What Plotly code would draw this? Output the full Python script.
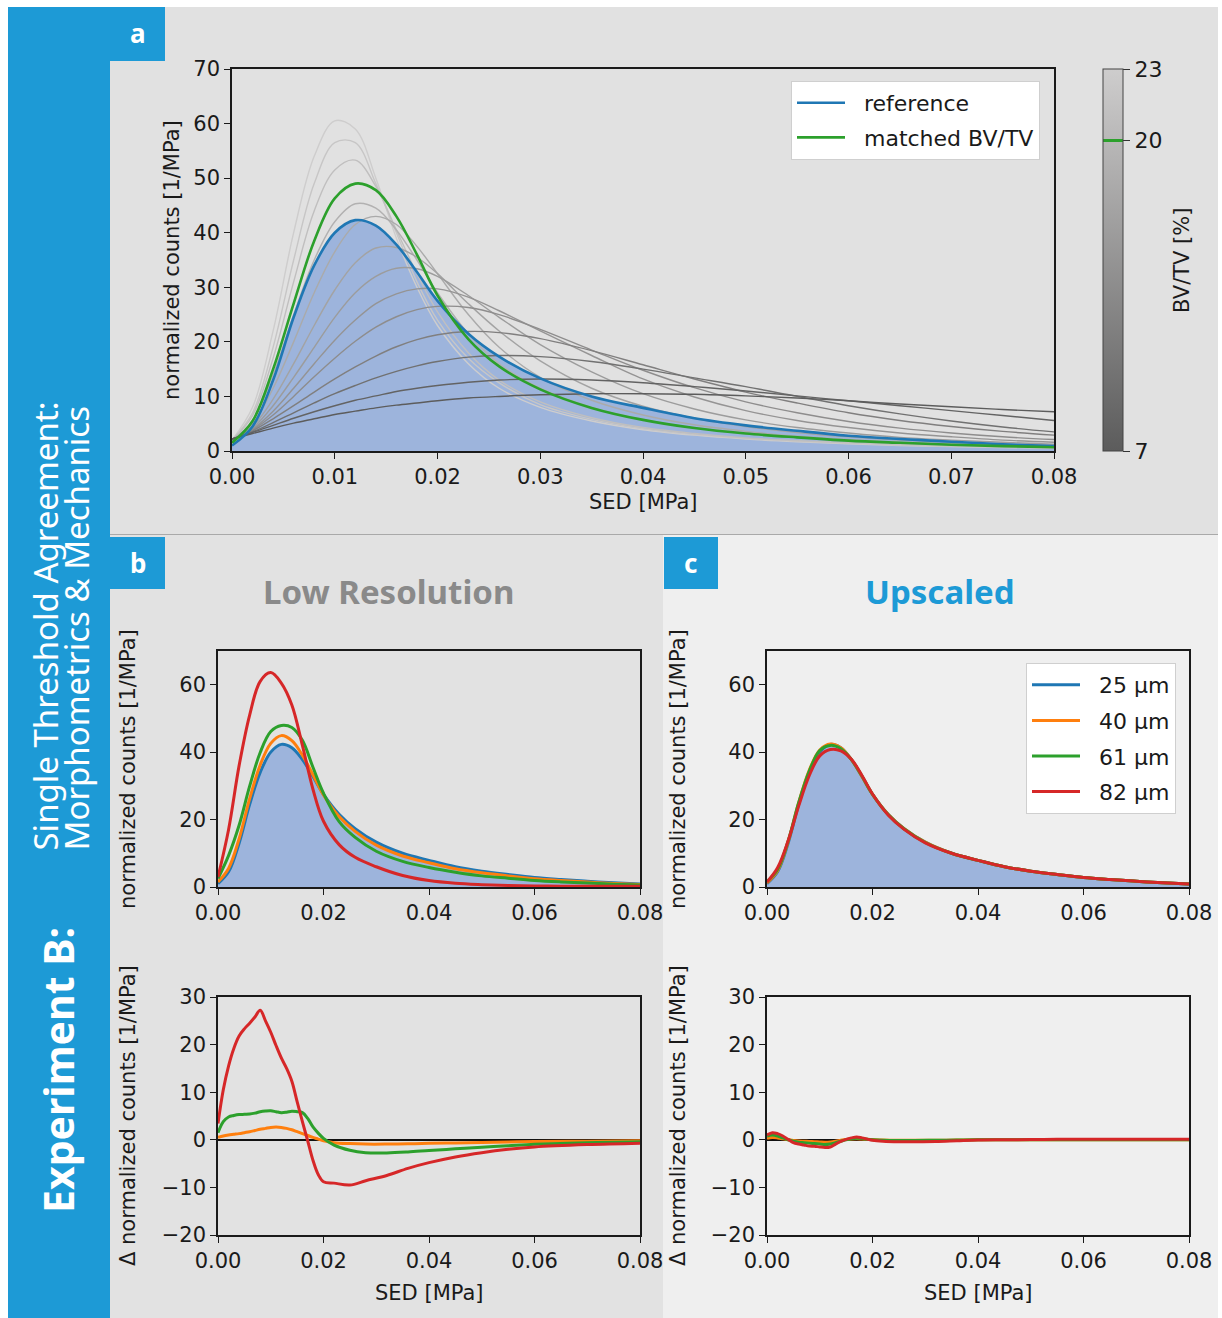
import plotly.graph_objects as go

W, H = 1222, 1318
FONT = "DejaVu Sans"        # axes, ticks, legends
HEAD_FONT = "Noto Sans"     # panel headings and side banner
SIDEBAR_BLUE = "#1d9ad6"
FILL_BLUE = "#9db4dc"
C_BLUE, C_ORANGE, C_GREEN, C_RED = "#1f77b4", "#ff7f0e", "#2ca02c", "#d62728"
NBSP = "\u00a0"


def px(x):
    return x / W


def py(y):
    return 1 - y / H


# ---------------- data ----------------
# SED sample points [MPa] for the distributions
SED = [0.000, 0.002, 0.004, 0.006, 0.008, 0.010, 0.012, 0.014, 0.016, 0.018, 0.020, 0.023,
       0.026, 0.030, 0.035, 0.040, 0.045, 0.050, 0.055, 0.060, 0.065, 0.070, 0.075, 0.080]

# reference distribution (25 um)
reference = [1.0, 4.5, 13.0, 24.5, 34.0, 40.0, 42.3, 41.3, 37.8, 32.8, 27.5, 21.5,
             17.3, 13.3, 10.0, 7.9, 6.0, 4.7, 3.7, 2.8, 2.2, 1.7, 1.25, 0.9]

# single-threshold result with matched BV/TV (20 %)
matched_bvtv = [1.5, 5.5, 15.0, 27.0, 38.5, 46.3, 49.0, 47.8, 43.0, 36.0, 28.5, 20.5,
                15.5, 11.3, 7.9, 5.7, 4.2, 3.2, 2.5, 1.9, 1.5, 1.15, 0.9, 0.7]

# threshold sweep: BV/TV [%] of each curve
bvtv_levels = [23, 22, 21, 19, 18, 17, 16, 15, 14, 12, 10, 8, 7]
sweep_bv23 = [2.0, 8.0, 22.0, 40.0, 54.0, 60.5, 59.0, 50.0, 39.0, 30.0, 23.0, 16.0,
              11.5, 8.0, 5.5, 3.9, 2.9, 2.2, 1.7, 1.3, 1.0, 0.8, 0.65, 0.5]
sweep_bv22 = [2.0, 7.0, 19.0, 35.0, 49.0, 56.5, 56.5, 49.0, 40.0, 31.0, 24.0, 17.0,
              12.5, 8.5, 5.8, 4.1, 3.0, 2.3, 1.8, 1.4, 1.1, 0.85, 0.7, 0.55]
sweep_bv21 = [2.0, 6.5, 17.0, 31.0, 44.0, 51.5, 53.3, 48.5, 40.5, 32.5, 25.5, 18.0,
              13.0, 9.0, 6.1, 4.3, 3.2, 2.4, 1.9, 1.5, 1.2, 0.9, 0.75, 0.6]
sweep_bv19 = [2.0, 5.5, 14.0, 25.0, 35.0, 42.0, 45.3, 44.5, 40.5, 35.0, 29.0, 21.5,
              16.0, 11.5, 8.0, 5.8, 4.3, 3.3, 2.5, 1.9, 1.5, 1.2, 0.95, 0.75]
sweep_bv18 = [2.0, 5.0, 11.5, 20.0, 29.0, 36.5, 41.5, 43.0, 41.5, 37.5, 32.5, 25.0,
              19.0, 13.5, 9.3, 6.6, 4.8, 3.6, 2.7, 2.1, 1.6, 1.3, 1.0, 0.8]
sweep_bv17 = [2.0, 4.5, 9.5, 16.0, 23.0, 29.5, 34.5, 37.2, 37.3, 35.5, 32.5, 27.0,
              22.0, 16.5, 11.5, 8.2, 6.0, 4.5, 3.4, 2.6, 2.0, 1.6, 1.25, 1.0]
sweep_bv16 = [2.0, 4.2, 8.3, 13.5, 19.0, 24.5, 29.0, 32.0, 33.5, 33.4, 32.0, 28.5,
              24.5, 19.5, 14.5, 10.5, 7.7, 5.7, 4.3, 3.3, 2.5, 2.0, 1.6, 1.25]
sweep_bv15 = [2.0, 4.0, 7.3, 11.5, 16.0, 20.3, 24.0, 27.0, 28.8, 29.7, 29.7, 28.2,
              25.7, 22.0, 17.5, 13.2, 9.9, 7.4, 5.6, 4.3, 3.3, 2.6, 2.0, 1.6]
sweep_bv14 = [2.1, 3.9, 6.6, 10.0, 13.6, 17.0, 20.1, 22.7, 24.6, 25.9, 26.5, 26.3,
              25.0, 22.3, 18.5, 14.8, 11.6, 9.0, 7.0, 5.4, 4.2, 3.3, 2.6, 2.1]
sweep_bv12 = [2.2, 3.7, 5.9, 8.3, 10.8, 13.2, 15.4, 17.4, 19.1, 20.4, 21.3, 21.9,
              21.7, 20.6, 18.4, 15.8, 13.2, 10.8, 8.8, 7.0, 5.6, 4.5, 3.6, 2.9]
sweep_bv10 = [2.2, 3.5, 5.2, 7.0, 8.8, 10.5, 12.0, 13.4, 14.6, 15.6, 16.4, 17.2,
              17.5, 17.3, 16.4, 15.0, 13.4, 11.8, 10.0, 8.3, 6.8, 5.5, 4.4, 3.5]
sweep_bv8 = [2.2, 3.4, 4.7, 6.0, 7.2, 8.3, 9.3, 10.1, 10.9, 11.5, 12.0, 12.6,
             13.0, 13.2, 13.0, 12.5, 11.8, 11.0, 10.1, 9.2, 8.3, 7.4, 6.5, 5.6]
sweep_bv7 = [2.2, 3.2, 4.2, 5.1, 5.9, 6.7, 7.3, 7.9, 8.4, 8.8, 9.2, 9.7,
             10.0, 10.3, 10.5, 10.5, 10.4, 10.1, 9.7, 9.2, 8.6, 8.1, 7.6, 7.2]
sweep_curves = [sweep_bv23, sweep_bv22, sweep_bv21, sweep_bv19, sweep_bv18, sweep_bv17, sweep_bv16,
                sweep_bv15, sweep_bv14, sweep_bv12, sweep_bv10, sweep_bv8, sweep_bv7]
BVTV_MIN, BVTV_MAX, BVTV_MATCHED = 7, 23, 20
bvtv_ticks = [7, 20, 23]

# resolutions
resolutions = ["25 µm", "40 µm", "61 µm", "82 µm"]

# low resolution distributions (25 um = reference)
low_40 = [1.5, 5.5, 14.3, 26.2, 36.2, 42.6, 44.9, 43.4, 39.1, 33.3, 27.3, 20.8,
          16.5, 12.4, 9.2, 7.2, 5.4, 4.2, 3.3, 2.45, 1.9, 1.45, 1.05, 0.75]
low_61 = [2.5, 9.3, 18.3, 29.9, 39.9, 46.1, 47.9, 47.3, 43.5, 35.5, 27.8, 19.3,
          14.7, 10.6, 7.6, 5.8, 4.4, 3.3, 2.6, 1.95, 1.5, 1.15, 0.85, 0.6]
low_82 = [3.0, 17.0, 36.0, 51.0, 61.0, 63.6, 60.5, 54.0, 42.0, 29.0, 19.5, 12.5,
          8.8, 6.0, 3.4, 1.9, 1.1, 0.7, 0.45, 0.3, 0.25, 0.2, 0.2, 0.2]

# upscaled distributions
up_40 = [1.2, 4.8, 13.4, 25.0, 34.6, 40.6, 42.4, 41.3, 37.8, 32.8, 27.5, 21.5,
         17.3, 13.3, 10.0, 7.9, 6.0, 4.7, 3.7, 2.8, 2.2, 1.7, 1.25, 0.9]
up_61 = [1.6, 5.2, 13.6, 25.0, 34.3, 40.5, 42.0, 41.0, 37.8, 32.9, 27.5, 21.4,
         17.2, 13.2, 10.0, 7.9, 6.0, 4.7, 3.7, 2.8, 2.2, 1.7, 1.25, 0.9]
up_82 = [1.5, 5.7, 13.7, 24.0, 33.0, 38.9, 40.8, 40.4, 37.9, 33.1, 27.6, 21.3,
         17.1, 13.1, 10.0, 7.9, 6.0, 4.7, 3.7, 2.8, 2.2, 1.7, 1.25, 0.9]

# differences to the reference
D_SED = [0.000, 0.001, 0.002, 0.003, 0.004, 0.005, 0.006, 0.007, 0.008, 0.009, 0.010,
         0.011, 0.012, 0.013, 0.014, 0.015, 0.016, 0.017, 0.018, 0.019, 0.020, 0.022,
         0.025, 0.028, 0.032, 0.036, 0.040, 0.045, 0.050, 0.055, 0.060, 0.070, 0.080]
low_d40 = [0.5, 0.8, 1.0, 1.15, 1.3, 1.5, 1.7, 1.95, 2.2, 2.4, 2.6,
           2.7, 2.6, 2.4, 2.1, 1.7, 1.3, 0.9, 0.5, 0.15, -0.2, -0.6,
           -0.8, -0.9, -0.9, -0.85, -0.75, -0.65, -0.55, -0.45, -0.38, -0.28, -0.2]
low_d61 = [1.5, 3.8, 4.8, 5.1, 5.3, 5.35, 5.4, 5.6, 5.9, 6.05, 6.1,
           5.9, 5.7, 5.8, 6.0, 5.9, 5.7, 4.5, 2.7, 1.4, 0.3, -1.1,
           -2.2, -2.7, -2.75, -2.55, -2.25, -1.9, -1.55, -1.25, -0.95, -0.6, -0.4]
low_d82 = [3.4, 10.5, 15.5, 19.2, 21.8, 23.3, 24.5, 25.8, 27.2, 25.0, 22.6,
           19.8, 17.2, 15.0, 12.3, 8.0, 3.8, -0.2, -4.3, -7.3, -8.8, -9.1,
           -9.5, -8.6, -7.5, -6.0, -4.8, -3.6, -2.7, -2.0, -1.5, -1.0, -0.7]
up_d40 = [0.3, 0.5, 0.4, 0.2, 0.0, -0.15, -0.25, -0.3, -0.35, -0.4, -0.45,
          -0.5, -0.45, -0.3, -0.1, 0.05, 0.15, 0.2, 0.15, 0.1, 0.05, -0.05,
          -0.1, -0.1, -0.1, -0.05, 0.0, 0.0, 0.0, 0.02, 0.02, 0.02, 0.02]
up_d61 = [0.8, 1.0, 0.8, 0.4, 0.0, -0.3, -0.5, -0.6, -0.7, -0.8, -0.9,
          -1.0, -0.9, -0.6, -0.3, 0.0, 0.2, 0.3, 0.25, 0.1, 0.0, -0.1,
          -0.15, -0.15, -0.1, -0.05, 0.0, 0.02, 0.03, 0.03, 0.03, 0.03, 0.03]
up_d82 = [1.0, 1.5, 1.3, 0.8, 0.1, -0.6, -0.9, -1.1, -1.3, -1.35, -1.5,
          -1.6, -1.5, -0.9, -0.35, 0.1, 0.4, 0.6, 0.4, 0.15, -0.1, -0.3,
          -0.4, -0.4, -0.35, -0.2, -0.05, 0.0, 0.05, 0.1, 0.1, 0.1, 0.1]

# ---------------- colours ----------------
DARK_GREY = (92, 92, 92)
LIGHT_GREY = (206, 205, 205)


def grey_for(bv):
    t = (bv - BVTV_MIN) / (BVTV_MAX - BVTV_MIN)
    r, g, b = [round(d + t * (l - d)) for d, l in zip(DARK_GREY, LIGHT_GREY)]
    return f"rgb({r},{g},{b})"


t_match = (BVTV_MATCHED - BVTV_MIN) / (BVTV_MAX - BVTV_MIN)
band = 0.004
bar_scale = [
    [0.0, grey_for(BVTV_MIN)],
    [t_match - band, grey_for(BVTV_MATCHED - band * 16)],
    [t_match - band, C_GREEN],
    [t_match + band, C_GREEN],
    [t_match + band, grey_for(BVTV_MATCHED + band * 16)],
    [1.0, grey_for(BVTV_MAX)],
]

fig = go.Figure()
SMOOTH = 1.0


def line(x, y, color, width, ax, name=None, legend=None):
    fig.add_trace(go.Scatter(
        x=x, y=y, mode="lines", name=(NBSP * 2 + name) if name else None,
        line=dict(color=color, width=width, shape="spline", smoothing=SMOOTH),
        showlegend=legend is not None, legend=legend or "legend",
        legendgroup=name, xaxis="x" + ax, yaxis="y" + ax, hoverinfo="skip"))


def ref_fill(ax):
    fig.add_trace(go.Scatter(
        x=SED, y=reference, mode="lines", fill="tozeroy", fillcolor=FILL_BLUE,
        line=dict(width=0, shape="spline", smoothing=SMOOTH), showlegend=False,
        xaxis="x" + ax, yaxis="y" + ax, hoverinfo="skip"))


# panel a
ref_fill("")
for bv, curve in zip(bvtv_levels, sweep_curves):
    line(SED, curve, grey_for(bv), 1.4, "")
line(SED, reference, C_BLUE, 2.6, "", name="reference", legend="legend")
line(SED, matched_bvtv, C_GREEN, 2.6, "", name="matched BV/TV", legend="legend")

# colour bar for the BV/TV sweep
fig.add_trace(go.Scatter(
    x=[None], y=[None], mode="markers", showlegend=False, hoverinfo="skip",
    marker=dict(color=[BVTV_MIN, BVTV_MAX], cmin=BVTV_MIN, cmax=BVTV_MAX,
                colorscale=bar_scale, showscale=True,
                colorbar=dict(
                    x=px(1103), xanchor="left", y=py(260), yanchor="middle",
                    len=382 / H, lenmode="fraction", thickness=20, thicknessmode="pixels",
                    outlinewidth=1, outlinecolor="#444444", xpad=0, ypad=0,
                    ticks="outside", ticklen=7, tickcolor="#333333",
                    tickvals=bvtv_ticks, tickfont=dict(size=22, color="#1a1a1a", family=FONT))),
    xaxis="x", yaxis="y"))

res_colors = [C_BLUE, C_ORANGE, C_GREEN, C_RED]

# panel b
ref_fill("2")
for y, c in zip([reference, low_40, low_61, low_82], res_colors):
    line(SED, y, c, 3, "2")
for y, c in zip([low_d40, low_d61, low_d82], res_colors[1:]):
    line(D_SED, y, c, 3, "3")

# panel c
ref_fill("4")
for y, c, n in zip([reference, up_40, up_61, up_82], res_colors, resolutions):
    line(SED, y, c, 3, "4", name=n, legend="legend2")
for y, c in zip([up_d40, up_d61, up_d82], res_colors[1:]):
    line(D_SED, y, c, 3, "5")

# ---------------- axes ----------------
tick_font = dict(size=21, color="#1a1a1a", family=FONT)


def ax_style(**kw):
    d = dict(showline=True, mirror=True, linecolor="#1a1a1a", linewidth=1.5,
             ticks="outside", ticklen=6, tickwidth=1.3, tickcolor="#1a1a1a",
             showgrid=False, zeroline=False, tickfont=tick_font, fixedrange=True,
             automargin=False)
    d.update(kw)
    return d


xa = [px(232), px(1054)]
xb = [px(218), px(640)]
xc = [px(767), px(1189)]
ya = [py(451), py(69)]
ytop = [py(887), py(651)]
ybot = [py(1235), py(997)]

sed_ticks = [0.0, 0.02, 0.04, 0.06, 0.08]
fig.update_layout(
    xaxis=ax_style(domain=xa, range=[0, 0.08], tickvals=[i / 100 for i in range(9)],
                   tickformat=".2f", anchor="y"),
    yaxis=ax_style(domain=ya, range=[0, 70], tickvals=list(range(0, 71, 10)), anchor="x"),
    xaxis2=ax_style(domain=xb, range=[0, 0.08], tickvals=sed_ticks, tickformat=".2f", anchor="y2"),
    yaxis2=ax_style(domain=ytop, range=[0, 70], tickvals=[0, 20, 40, 60], anchor="x2"),
    xaxis3=ax_style(domain=xb, range=[0, 0.08], tickvals=sed_ticks, tickformat=".2f", anchor="y3"),
    yaxis3=ax_style(domain=ybot, range=[-20, 30], tickvals=list(range(-20, 31, 10)), anchor="x3",
                    zeroline=True, zerolinecolor="#111111", zerolinewidth=2),
    xaxis4=ax_style(domain=xc, range=[0, 0.08], tickvals=sed_ticks, tickformat=".2f", anchor="y4"),
    yaxis4=ax_style(domain=ytop, range=[0, 70], tickvals=[0, 20, 40, 60], anchor="x4"),
    xaxis5=ax_style(domain=xc, range=[0, 0.08], tickvals=sed_ticks, tickformat=".2f", anchor="y5"),
    yaxis5=ax_style(domain=ybot, range=[-20, 30], tickvals=list(range(-20, 31, 10)), anchor="x5",
                    zeroline=True, zerolinecolor="#111111", zerolinewidth=2),
)

# ---------------- background panels ----------------
shapes = []


def rect(x0, y0, x1, y1, color):
    shapes.append(dict(type="rect", xref="paper", yref="paper", layer="below",
                       x0=px(x0), x1=px(x1), y0=py(y1), y1=py(y0),
                       fillcolor=color, line=dict(width=0)))


rect(110, 7, 1218, 534, "#e1e1e1")
rect(110, 535, 663, 1318, "#e2e2e2")
rect(663, 535, 1218, 1318, "#efefef")
rect(8, 7, 110, 1318, SIDEBAR_BLUE)
rect(110, 7, 165, 61, SIDEBAR_BLUE)
rect(110, 537, 165, 589, SIDEBAR_BLUE)
rect(664, 537, 718, 589, SIDEBAR_BLUE)
shapes.append(dict(type="line", xref="paper", yref="paper", layer="below",
                   x0=px(110), x1=px(1218), y0=py(534.5), y1=py(534.5),
                   line=dict(color="#a9a9a9", width=1)))

# ---------------- text ----------------
ann = []


def text(x, y, s, size, color="#1a1a1a", angle=0, bold=False, family=FONT,
         xanchor="center", yanchor="middle"):
    if bold:
        s = f"<b>{s}</b>"
    ann.append(dict(x=px(x), y=py(y), xref="paper", yref="paper", text=s, showarrow=False,
                    textangle=angle, xanchor=xanchor, yanchor=yanchor,
                    font=dict(size=size, color=color, family=family)))


ylab = "normalized counts [1/MPa]"
dlab = "Δ normalized counts [1/MPa]"
text(172, 260, ylab, 21, angle=-90)
text(128, 769, ylab, 21, angle=-90)
text(128, 1116, dlab, 21, angle=-90)
text(678, 769, ylab, 21, angle=-90)
text(678, 1116, dlab, 21, angle=-90)
text(643, 502, "SED [MPa]", 21)
text(429, 1293, "SED [MPa]", 21)
text(978, 1293, "SED [MPa]", 21)
text(1182, 261, "BV/TV [%]", 21, angle=-90)

text(388, 591, "Low Resolution", 33, color="#8a8a8a", bold=True, family=HEAD_FONT)
text(940, 591, "Upscaled", 33, color=SIDEBAR_BLUE, bold=True, family=HEAD_FONT)

text(138, 33, "a", 26, color="white", bold=True, family=HEAD_FONT)
text(138, 563, "b", 26, color="white", bold=True, family=HEAD_FONT)
text(691, 563, "c", 26, color="white", bold=True, family=HEAD_FONT)

text(58, 1070, "Experiment B:", 41, color="white", angle=-90, bold=True, family=HEAD_FONT)
text(45, 853, "Single Threshold Agreement:", 33, color="white", angle=-90,
     family=HEAD_FONT, yanchor="bottom")
text(76, 853, "Morphometrics & Mechanics", 33, color="white", angle=-90,
     family=HEAD_FONT, yanchor="bottom")

legend_font = dict(size=22, color="#1a1a1a", family=FONT)
fig.update_layout(
    width=W, height=H, autosize=False,
    margin=dict(l=0, r=0, t=0, b=0, pad=0, autoexpand=False),
    paper_bgcolor="white", plot_bgcolor="white",
    font=dict(family=FONT, color="#1a1a1a"),
    hovermode=False,
    shapes=shapes, annotations=ann,
    legend=dict(x=px(1040), xanchor="right", y=py(81), yanchor="top",
                bgcolor="white", bordercolor="#cfcfcf", borderwidth=1, font=legend_font,
                traceorder="grouped", tracegroupgap=3, itemwidth=48),
    legend2=dict(x=px(1176), xanchor="right", y=py(663), yanchor="top",
                 bgcolor="white", bordercolor="#cfcfcf", borderwidth=1, font=legend_font,
                 traceorder="grouped", tracegroupgap=4, itemwidth=48),
)

fig.write_html("out.html")
